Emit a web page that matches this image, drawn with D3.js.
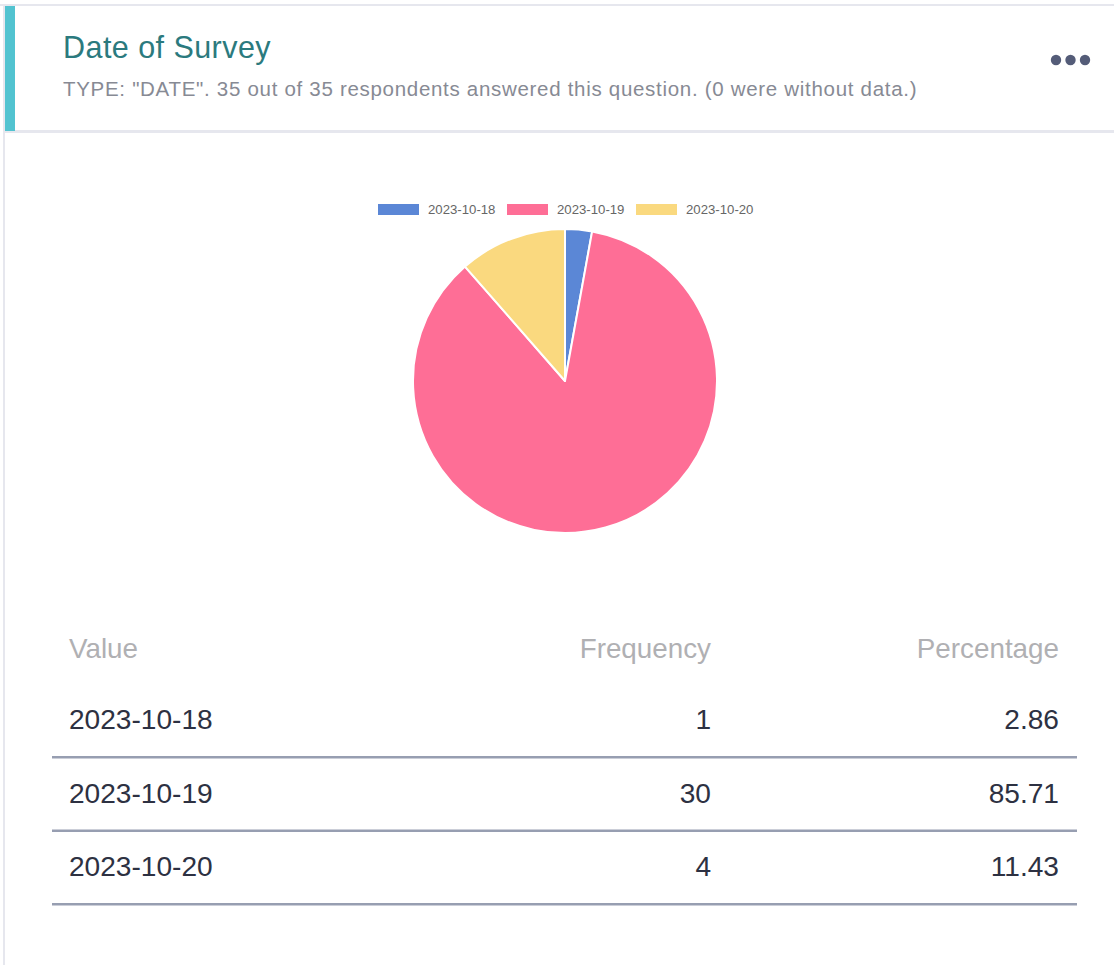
<!DOCTYPE html>
<html>
<head>
<meta charset="utf-8">
<style>
  html, body { margin: 0; padding: 0; background: #fff; }
  svg { display: block; font-family: "Helvetica Neue", Helvetica, Arial, "Liberation Sans", sans-serif; }
</style>
<script src="https://d3js.org/d3.v7.min.js"></script>
</head>
<body>
<svg id="card" width="1114" height="965"></svg>
<script>
// data
var dates = ["2023-10-18", "2023-10-19", "2023-10-20"];
var frequencies = [1, 30, 4];
var percentages = ["2.86", "85.71", "11.43"];
var colours = ["#5b87d6", "#fe6e96", "#fad97f"];
var tableHeads = ["Value", "Frequency", "Percentage"];

var title = "Date of Survey";
var subtitle = 'TYPE: "DATE". 35 out of 35 respondents answered this question. (0 were without data.)';

var svg = d3.select("#card");

// card frame
svg.append("rect").attr("x", 0).attr("y", 4).attr("width", 1114).attr("height", 2).attr("fill", "#e6e7ee");
svg.append("rect").attr("x", 3).attr("y", 4).attr("width", 2).attr("height", 961).attr("fill", "#e6e7ee");
svg.append("rect").attr("x", 5).attr("y", 130).attr("width", 1109).attr("height", 3).attr("fill", "#e6e7ee");
svg.append("rect").attr("x", 5).attr("y", 6).attr("width", 10).attr("height", 125).attr("fill", "#52c3d0");

// header
svg.append("text").attr("x", 63).attr("y", 58)
  .attr("font-size", 30.5).attr("letter-spacing", 0.45).attr("fill", "#2b7a7e").text(title);
svg.append("text").attr("x", 63).attr("y", 96)
  .attr("font-size", 20.5).attr("letter-spacing", 0.7).attr("fill", "#878a94").text(subtitle);

svg.append("g").selectAll("circle").data([0, 1, 2]).join("circle")
  .attr("cx", function(d) { return 1056 + d * 14.5; })
  .attr("cy", 60).attr("r", 5.2).attr("fill", "#545c78");

// legend
var legend = svg.append("g").attr("transform", "translate(378,204)");
var legendItem = legend.selectAll("g").data(dates).join("g")
  .attr("transform", function(d, i) { return "translate(" + (i * 129) + ",0)"; });
legendItem.append("rect").attr("width", 41).attr("height", 11)
  .attr("fill", function(d, i) { return colours[i]; });
legendItem.append("text").attr("x", 50).attr("y", 10)
  .attr("font-size", 13.2).attr("fill", "#666").text(function(d) { return d; });

// pie
var radius = 152;
var pie = d3.pie().sort(null).value(function(d) { return d; });
var arc = d3.arc().innerRadius(0).outerRadius(radius);
var g = svg.append("g").attr("transform", "translate(565,381)");
g.selectAll("path").data(pie(frequencies)).join("path")
  .attr("d", arc)
  .attr("fill", function(d, i) { return colours[i]; })
  .attr("stroke", "#fff").attr("stroke-width", 2).attr("stroke-linejoin", "round");

// table
var colX = [69, 711, 1059];
var anchors = ["start", "end", "end"];
var head = svg.append("g");
head.selectAll("text").data(tableHeads).join("text")
  .attr("x", function(d, i) { return colX[i]; })
  .attr("y", 658)
  .attr("text-anchor", function(d, i) { return anchors[i]; })
  .attr("font-size", 27.8).attr("fill", "#b0b0b3").text(function(d) { return d; });

var rowY = d3.scalePoint().domain(dates).range([729, 876]);
var rows = svg.append("g").selectAll("g").data(dates).join("g")
  .attr("transform", function(d) { return "translate(0," + rowY(d) + ")"; });
rows.each(function(d, i) {
  var cells = [d, frequencies[i], percentages[i]];
  d3.select(this).selectAll("text").data(cells).join("text")
    .attr("x", function(c, j) { return colX[j]; })
    .attr("text-anchor", function(c, j) { return anchors[j]; })
    .attr("font-size", 28.1).attr("fill", "#2d3142").text(function(c) { return c; });
  d3.select(this).append("rect").attr("x", 52).attr("y", 27).attr("width", 1025).attr("height", 2.5)
    .attr("fill", "#979eb1");
});
</script>
</body>
</html>
